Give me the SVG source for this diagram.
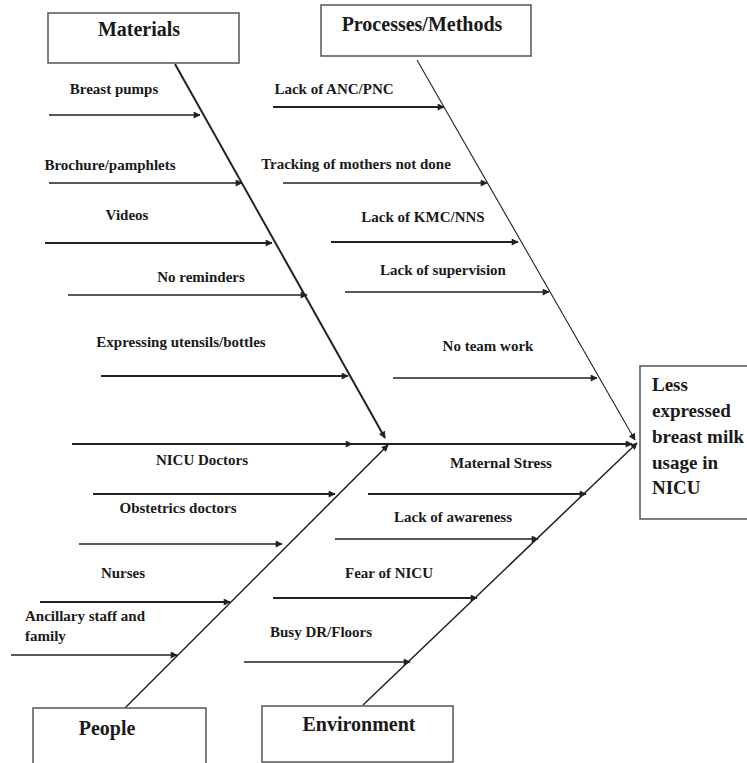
<svg xmlns="http://www.w3.org/2000/svg" width="747" height="763" viewBox="0 0 747 763">
<style>
.box{fill:#fff;stroke:#555;stroke-width:1.5}
.t{font-family:"Liberation Serif","Times New Roman",serif;font-weight:bold;fill:#1a1a1a}
.h{font-size:20px;text-anchor:middle}
.b{font-size:15px;text-anchor:middle}
.bl{font-size:15px}
.r{font-size:19px}
.ln{stroke:#222;fill:none}
</style>
<defs>
<marker id="ah" viewBox="0 0 10 10" refX="9" refY="5" markerWidth="8" markerHeight="7" markerUnits="userSpaceOnUse" orient="auto">
<path d="M0,0 L10,5 L0,10 z" fill="#222"/>
</marker>
</defs>
<rect width="747" height="763" fill="#fff"/>
<g id="connectors">
<line class="ln" x1="175" y1="64" x2="385" y2="438" stroke-width="2" marker-end="url(#ah)"/>
<line class="ln" x1="417" y1="60" x2="635" y2="440" stroke-width="1.1" marker-end="url(#ah)"/>
<line class="ln" x1="125" y1="708" x2="388" y2="445" stroke-width="1.5" marker-end="url(#ah)"/>
<line class="ln" x1="363" y1="705" x2="637" y2="443" stroke-width="1.5" marker-end="url(#ah)"/>
<line class="ln" x1="72" y1="444" x2="352" y2="444" stroke-width="1.8" marker-end="url(#ah)"/>
<line class="ln" x1="352" y1="444" x2="632" y2="444" stroke-width="1.8" marker-end="url(#ah)"/>
<line class="ln" x1="49" y1="115" x2="200" y2="115" stroke-width="1.3" marker-end="url(#ah)"/>
<line class="ln" x1="49" y1="183" x2="242" y2="183" stroke-width="1.3" marker-end="url(#ah)"/>
<line class="ln" x1="45" y1="243" x2="272" y2="243" stroke-width="1.8" marker-end="url(#ah)"/>
<line class="ln" x1="68" y1="295" x2="307" y2="295" stroke-width="1.3" marker-end="url(#ah)"/>
<line class="ln" x1="101" y1="376" x2="348" y2="376" stroke-width="1.8" marker-end="url(#ah)"/>
<line class="ln" x1="93" y1="494" x2="335" y2="494" stroke-width="1.8" marker-end="url(#ah)"/>
<line class="ln" x1="79" y1="544" x2="282" y2="544" stroke-width="1.3" marker-end="url(#ah)"/>
<line class="ln" x1="40" y1="602" x2="230" y2="602" stroke-width="1.8" marker-end="url(#ah)"/>
<line class="ln" x1="11" y1="655" x2="177" y2="655" stroke-width="1.3" marker-end="url(#ah)"/>
<line class="ln" x1="273" y1="107" x2="444" y2="107" stroke-width="1.8" marker-end="url(#ah)"/>
<line class="ln" x1="283" y1="183" x2="487" y2="183" stroke-width="1.3" marker-end="url(#ah)"/>
<line class="ln" x1="331" y1="242" x2="518" y2="242" stroke-width="1.8" marker-end="url(#ah)"/>
<line class="ln" x1="345" y1="292" x2="549" y2="292" stroke-width="1.3" marker-end="url(#ah)"/>
<line class="ln" x1="393" y1="378" x2="597" y2="378" stroke-width="1.3" marker-end="url(#ah)"/>
<line class="ln" x1="368" y1="494" x2="586" y2="494" stroke-width="1.8" marker-end="url(#ah)"/>
<line class="ln" x1="335" y1="539" x2="538" y2="539" stroke-width="1.3" marker-end="url(#ah)"/>
<line class="ln" x1="273" y1="598" x2="477" y2="598" stroke-width="1.8" marker-end="url(#ah)"/>
<line class="ln" x1="244" y1="662" x2="410" y2="662" stroke-width="1.3" marker-end="url(#ah)"/>
</g>
<g id="materials"><rect class="box" x="48" y="13" width="191" height="50"/><text class="t h" x="139" y="36">Materials</text></g>
<g id="processes"><rect class="box" x="321" y="5" width="210" height="51"/><text class="t h" x="422" y="31">Processes/Methods</text></g>
<g id="people"><rect class="box" x="33" y="708" width="173" height="60"/><text class="t h" x="107" y="735">People</text></g>
<g id="environment"><rect class="box" x="262" y="706" width="191" height="56"/><text class="t h" x="359" y="731">Environment</text></g>
<g id="result"><rect class="box" x="640" y="366" width="115" height="153"/>
<text class="t r" x="652" y="391">Less</text>
<text class="t r" x="652" y="417">expressed</text>
<text class="t r" x="652" y="443">breast milk</text>
<text class="t r" x="652" y="469">usage in</text>
<text class="t r" x="652" y="494">NICU</text></g>
<g id="labels">
<text class="t b" x="114" y="94">Breast pumps</text>
<text class="t b" x="110" y="170">Brochure/pamphlets</text>
<text class="t b" x="127" y="220">Videos</text>
<text class="t b" x="201" y="282">No reminders</text>
<text class="t b" x="181" y="347">Expressing utensils/bottles</text>
<text class="t b" x="202" y="465">NICU Doctors</text>
<text class="t b" x="178" y="513">Obstetrics doctors</text>
<text class="t b" x="123" y="578">Nurses</text>
<text class="t bl" x="25" y="621">Ancillary staff and</text>
<text class="t bl" x="25" y="641">family</text>
<text class="t b" x="334" y="94">Lack of ANC/PNC</text>
<text class="t b" x="356" y="169">Tracking of mothers not done</text>
<text class="t b" x="423" y="222">Lack of KMC/NNS</text>
<text class="t b" x="443" y="275">Lack of supervision</text>
<text class="t b" x="488" y="351">No team work</text>
<text class="t b" x="501" y="468">Maternal Stress</text>
<text class="t b" x="453" y="522">Lack of awareness</text>
<text class="t b" x="389" y="578">Fear of NICU</text>
<text class="t b" x="321" y="637">Busy DR/Floors</text>
</g>
</svg>
